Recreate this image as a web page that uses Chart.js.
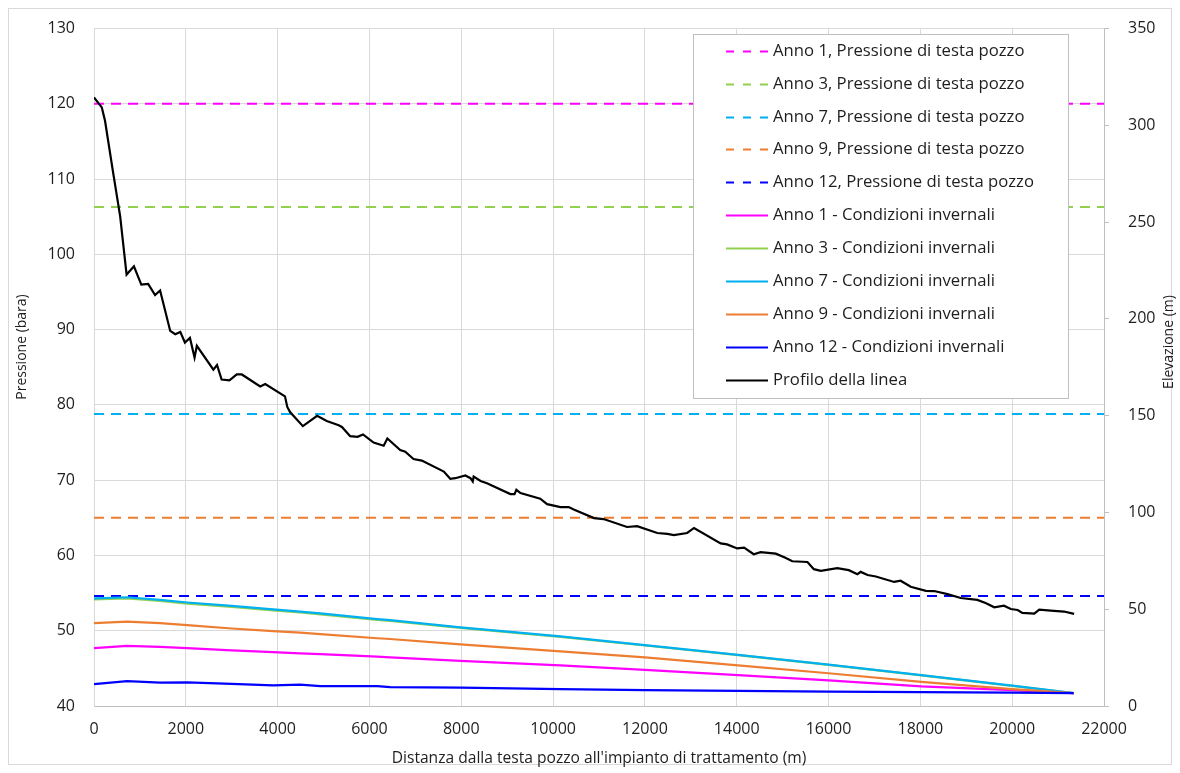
<!DOCTYPE html>
<html>
<head>
<meta charset="utf-8">
<script src="https://cdn.jsdelivr.net/npm/chart.js@4.4.1/dist/chart.umd.min.js"></script>
<style>
  html, body { margin: 0; padding: 0; background: #ffffff; }
  canvas { display: block; }
</style>
</head>
<body>
<canvas id="grafico" width="1180" height="773"></canvas>
<script>
// Pressione di testa pozzo per anno (bara)
const anniTesta = ['Anno 1', 'Anno 3', 'Anno 7', 'Anno 9', 'Anno 12'];
const pressioneTesta = [120.0, 106.3, 78.8, 65.0, 54.6];

// Profili di pressione in condizioni invernali lungo la condotta (m, bara)
const distanzaCondotta = [0, 720, 1440, 2030, 3000, 3900, 4490, 4930, 6170, 6450, 7980, 10160, 12000, 14030, 16000, 18020, 20000, 21340];
const invernoAnno1  = [47.7, 48.0, 47.85, 47.7, 47.4, 47.15, 47.0, 46.9, 46.55, 46.45, 46.0, 45.4, 44.8, 44.1, 43.4, 42.6, 42.1, 41.7];
const invernoAnno3  = [54.15, 54.3, 53.95, 53.6, 53.15, 52.7, 52.42, 52.18, 51.45, 51.3, 50.37, 49.18, 48.04, 46.75, 45.46, 44.07, 42.68, 41.7];
const invernoAnno7  = [54.3, 54.45, 54.1, 53.75, 53.3, 52.85, 52.55, 52.3, 51.55, 51.4, 50.45, 49.25, 48.1, 46.8, 45.5, 44.1, 42.7, 41.7];
const invernoAnno9  = [51.0, 51.2, 51.0, 50.75, 50.3, 49.95, 49.75, 49.55, 49.0, 48.9, 48.2, 47.27, 46.45, 45.4, 44.35, 43.2, 42.25, 41.7];
const invernoAnno12 = [42.9, 43.3, 43.1, 43.15, 42.95, 42.75, 42.85, 42.65, 42.65, 42.5, 42.45, 42.25, 42.1, 42.0, 41.9, 41.85, 41.78, 41.7];

// Profilo altimetrico della linea (m, m s.l.m.)
const profiloDistanza = [
  0, 170, 240, 420, 570, 710, 870, 1030, 1180, 1330,
  1440, 1660, 1770, 1880, 1980, 2090, 2190, 2240, 2600, 2680,
  2780, 2950, 3110, 3220, 3620, 3730, 4160, 4210, 4270, 4550,
  4860, 5070, 5330, 5400, 5580, 5740, 5860, 6090, 6310, 6390,
  6670, 6780, 6960, 7140, 7620, 7760, 7870, 8090, 8200, 8250,
  8270, 8420, 8560, 9070, 9160, 9200, 9290, 9720, 9870, 10160,
  10340, 10450, 10890, 11100, 11610, 11830, 12270, 12490, 12630, 12920,
  13070, 13650, 13790, 14010, 14160, 14370, 14520, 14850, 15060, 15210,
  15540, 15680, 15830, 16190, 16440, 16630, 16700, 16850, 17030, 17430,
  17570, 17790, 18120, 18300, 18590, 18880, 19240, 19420, 19610, 19820,
  19970, 20120, 20220, 20480, 20590, 20840, 21130, 21350
];
const profiloElevazione = [
  314.4, 309.3, 302.4, 275.1, 253.0, 222.9, 227.2, 217.7, 218.1, 212.3,
  214.7, 193.8, 192.1, 193.3, 187.8, 190.2, 180.1, 186.1, 173.8, 176.2,
  168.7, 168.2, 171.3, 171.3, 165.1, 166.4, 160.0, 154.5, 151.9, 144.6,
  149.9, 147.3, 145.1, 144.2, 139.4, 139.1, 140.3, 136.1, 134.5, 138.2,
  132.2, 131.4, 127.6, 126.8, 121.1, 117.4, 117.7, 119.1, 117.7, 116.0,
  118.5, 116.3, 115.1, 109.5, 109.5, 111.7, 110.0, 107.1, 104.3, 102.8,
  102.8, 101.5, 97.1, 96.6, 92.5, 92.9, 89.4, 88.9, 88.3, 89.4,
  92.0, 84.0, 83.5, 81.4, 81.8, 78.4, 79.5, 78.7, 76.6, 74.8,
  74.4, 70.7, 69.8, 71.2, 70.2, 68.1, 69.3, 67.7, 66.9, 64.1,
  64.7, 61.6, 59.5, 59.4, 57.8, 55.8, 54.8, 53.2, 51.0, 51.8,
  50.1, 49.6, 48.1, 47.7, 49.8, 49.3, 48.8, 47.6
];

// Assi
const distanzaMin = 0, distanzaMax = 22000, distanzaPasso = 2000;
const pressioneMin = 40, pressioneMax = 130, pressionePasso = 10;
const elevazioneMin = 0, elevazioneMax = 350, elevazionePasso = 50;
const titoloX = "Distanza dalla testa pozzo all'impianto di trattamento (m)";
const titoloY = 'Pressione (bara)';
const titoloY2 = 'Elevazione (m)';

const colori = ['#FF00FF', '#92D050', '#00B0F0', '#ED7D31', '#0000FF'];
const invernali = [invernoAnno1, invernoAnno3, invernoAnno7, invernoAnno9, invernoAnno12];

const FONT = '"Open Sans", "DejaVu Sans", sans-serif';
const TESTO = '#1e1e1e';
const TRATTEGGIO = [10, 7];

const toPoints = (xs, ys) => xs.map((x, i) => ({ x, y: ys[i] }));

const datasets = [];
anniTesta.forEach((anno, i) => {
  datasets.push({
    label: anno + ', Pressione di testa pozzo',
    data: [{ x: distanzaMin, y: pressioneTesta[i] }, { x: distanzaMax, y: pressioneTesta[i] }],
    borderColor: colori[i],
    borderWidth: 2,
    borderDash: TRATTEGGIO,
    yAxisID: 'y'
  });
});
anniTesta.forEach((anno, i) => {
  datasets.push({
    label: anno + ' - Condizioni invernali',
    data: toPoints(distanzaCondotta, invernali[i]),
    borderColor: colori[i],
    borderWidth: 2.2,
    yAxisID: 'y'
  });
});
datasets.push({
  label: 'Profilo della linea',
  data: toPoints(profiloDistanza, profiloElevazione),
  borderColor: '#000000',
  borderWidth: 2.2,
  yAxisID: 'y2'
});
// later series are painted above earlier ones
datasets.forEach((d, i) => {
  d.order = datasets.length - i;
  d.pointRadius = 0;
  d.tension = 0;
  d.fill = false;
});

// white background and thin frame around the whole chart
const cornice = {
  id: 'cornice',
  beforeDraw(chart) {
    const c = chart.ctx;
    c.save();
    c.fillStyle = '#ffffff';
    c.fillRect(0, 0, chart.width, chart.height);
    c.strokeStyle = '#d9d9d9';
    c.lineWidth = 1;
    c.strokeRect(8.5, 8.5, chart.width - 17, chart.height - 17);
    c.restore();
  }
};

// vertical axis titles, both reading bottom-to-top
const titoliVerticali = {
  id: 'titoliVerticali',
  afterDraw(chart, args, o) {
    const c = chart.ctx;
    c.save();
    c.font = '14px ' + FONT;
    c.fillStyle = TESTO;
    c.textAlign = 'center';
    c.textBaseline = 'middle';
    o.voci.forEach(v => {
      c.save();
      c.translate(v.x, v.y);
      c.rotate(-Math.PI / 2);
      c.fillText(v.testo, 0, 0);
      c.restore();
    });
    c.restore();
  }
};

// boxed legend drawn inside the plot, one row per dataset
const legendaInterna = {
  id: 'legendaInterna',
  afterDatasetsDraw(chart, args, o) {
    const c = chart.ctx;
    c.save();
    c.fillStyle = '#ffffff';
    c.fillRect(o.x, o.y, o.w, o.h);
    c.strokeStyle = '#bfbfbf';
    c.lineWidth = 1;
    c.strokeRect(o.x + 0.5, o.y + 0.5, o.w, o.h);
    c.font = '16.7px ' + FONT;
    c.textBaseline = 'middle';
    c.textAlign = 'left';
    chart.data.datasets.forEach((ds, i) => {
      const cy = Math.round(o.y + o.first + i * o.row) + 0.5;
      const x0 = o.x + o.inset;
      c.beginPath();
      c.setLineDash(ds.borderDash ? [8, 9] : []);
      c.strokeStyle = ds.borderColor;
      c.lineWidth = 2;
      c.moveTo(x0, cy);
      c.lineTo(x0 + o.sample, cy);
      c.stroke();
      c.setLineDash([]);
      c.fillStyle = TESTO;
      c.fillText(ds.label, x0 + o.sample + 5, cy);
    });
    c.restore();
  }
};

const tickFont = { family: FONT, size: 16 };

new Chart(document.getElementById('grafico'), {
  type: 'line',
  data: { datasets },
  plugins: [cornice, legendaInterna, titoliVerticali],
  options: {
    responsive: false,
    animation: false,
    devicePixelRatio: 1,
    parsing: false,
    layout: { padding: { top: 25, left: 0, right: 0, bottom: 0 } },
    plugins: {
      legend: { display: false },
      tooltip: { enabled: false },
      legendaInterna: { x: 693, y: 34, w: 375, h: 364, first: 16.7, row: 32.9, inset: 33, sample: 42 },
      titoliVerticali: { voci: [ { testo: titoloY, x: 22, y: 347 }, { testo: titoloY2, x: 1169, y: 342 } ] }
    },
    scales: {
      x: {
        type: 'linear',
        position: 'bottom',
        min: distanzaMin, max: distanzaMax,
        ticks: { stepSize: distanzaPasso, font: tickFont, color: TESTO, padding: 14, maxRotation: 0, autoSkip: false,
                 callback: v => String(v) },
        grid: { color: '#d9d9d9', lineWidth: 1, drawTicks: false },
        border: { color: '#bfbfbf', width: 1 },
        title: { display: true, text: titoloX, font: { family: FONT, size: 15.6 }, color: TESTO,
                 padding: { top: 0, bottom: 5 } },
        afterFit(s) { s.height = 67; }
      },
      y: {
        type: 'linear',
        position: 'left',
        min: pressioneMin, max: pressioneMax,
        ticks: { stepSize: pressionePasso, font: tickFont, color: TESTO, padding: 19, callback: v => String(v) },
        grid: { color: '#d9d9d9', lineWidth: 1, drawTicks: false },
        border: { color: '#d9d9d9', width: 1 },
        afterFit(s) { s.width = 94; }
      },
      y2: {
        type: 'linear',
        position: 'right',
        min: elevazioneMin, max: elevazioneMax,
        ticks: { stepSize: elevazionePasso, font: tickFont, color: TESTO, padding: 19, callback: v => String(v) },
        grid: { drawOnChartArea: false, drawTicks: true, tickLength: 5, color: '#bfbfbf' },
        border: { color: '#bfbfbf', width: 1 },
        afterFit(s) { s.width = 76; }
      }
    }
  }
});
</script>
</body>
</html>
